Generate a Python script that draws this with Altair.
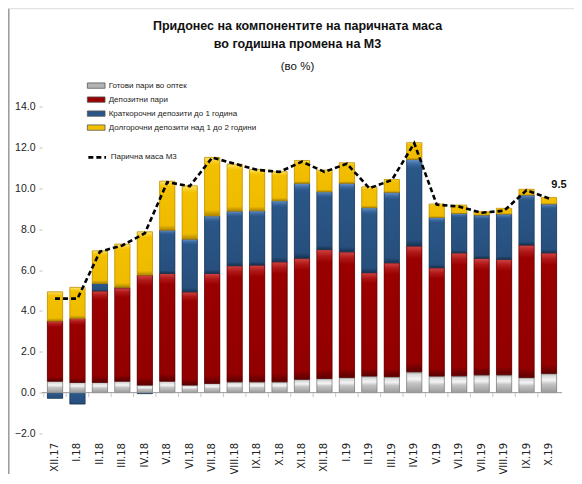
import altair as alt
import pandas as pd

months = ["XII.17", "I.18", "II.18", "III.18", "IV.18", "V.18", "VI.18", "VII.18",
          "VIII.18", "IX.18", "X.18", "XI.18", "XII.18", "I.19", "II.19", "III.19",
          "IV.19", "V.19", "VI.19", "VII.19", "VIII.19", "IX.19", "X.19"]
currency = [0.56, 0.50, 0.50, 0.56, 0.37, 0.56, 0.37, 0.45, 0.53, 0.53, 0.53, 0.65,
            0.69, 0.74, 0.81, 0.78, 1.02, 0.81, 0.82, 0.87, 0.87, 0.74, 0.94]
demand = [2.94, 3.13, 4.48, 4.57, 5.38, 5.27, 4.56, 5.38, 5.68, 5.71, 5.87, 5.93,
          6.31, 6.15, 5.06, 5.57, 6.15, 5.30, 6.02, 5.70, 5.65, 6.48, 5.90]
short_term = [-0.28, -0.56, 0.36, 0.02, -0.05, 2.12, 2.58, 2.82, 2.67, 2.66, 2.99, 3.66,
              2.83, 3.35, 3.18, 3.45, 4.24, 2.46, 1.93, 2.12, 2.22, 2.45, 2.39]
long_term = [1.43, 1.52, 1.60, 2.12, 2.12, 2.40, 2.61, 2.86, 2.30, 2.02, 1.42, 1.12,
             1.06, 1.01, 1.02, 0.63, 0.82, 0.66, 0.41, 0.16, 0.28, 0.28, 0.32]
m3 = [4.6, 4.6, 6.9, 7.2, 7.8, 10.3, 10.1, 11.5, 11.2, 10.9, 10.8, 11.3,
      10.8, 11.2, 10.0, 10.4, 12.2, 9.2, 9.1, 8.8, 8.9, 9.9, 9.5]

components = ["Готови пари во оптек", "Депозитни пари",
              "Краткорочни депозити до 1 година", "Долгорочни депозити над 1 до 2 години"]
line_name = "Парична маса М3"
title_lines = ["Придонес на компонентите на паричната маса", "во годишна промена на М3"]
subtitle = "(во %)"
fills = ["#b4b4b4", "#9a0000", "#2a5788", "#f3c000"]
edges = ["#7a7a7a", "#5e0000", "#1a3859", "#b88c00"]
gradients = [
    [(0.0, "#8c8c8c"), (0.12, "#d9d9d9"), (0.35, "#f4f4f4"), (0.55, "#c4c4c4"), (1.0, "#9a9a9a")],
    [(0.0, "#cf4545"), (0.05, "#b01818"), (0.1, "#9a0000"), (0.93, "#920000"), (1.0, "#5a0000")],
    [(0.0, "#6a95c9"), (0.05, "#3e6ba2"), (0.1, "#2a5788"), (0.93, "#274f7d"), (1.0, "#16324f")],
    [(0.0, "#ffe47a"), (0.07, "#f9cf25"), (0.13, "#f3c000"), (0.9, "#eebb00"), (1.0, "#b08400")],
]

# stacked extents (positive and negative parts stacked separately)
rows = []
for i, m in enumerate(months):
    pos, neg = 0.0, 0.0
    for k, series in enumerate([currency, demand, short_term, long_term]):
        v = series[i]
        if v >= 0:
            start, end = pos, pos + v
            pos = end
        else:
            start, end = neg, neg + v
            neg = end
        rows.append({"month": m, "component": components[k], "order": k,
                     "value": v, "start": start, "end": end})
bars_df = pd.DataFrame(rows)
line_df = pd.DataFrame({"month": months, "m3": m3, "series": line_name})
last_df = line_df.tail(1)

FONT = "Liberation Sans, Arial, sans-serif"
W, H = 520, 327

xscale = alt.Scale(paddingInner=0.32, paddingOuter=0.24)
xenc = alt.X("month:N", sort=months, scale=xscale,
             axis=alt.Axis(title=None, labelAngle=-90, labelFont="DejaVu Sans",
                           labelFontSize=10, labelColor="#222", domain=False, ticks=False,
                           labelPadding=9))
yscale = alt.Scale(domain=[-2, 14], nice=False, zero=False)
yaxis = alt.Axis(title=None, values=[-2, 0, 2, 4, 6, 8, 10, 12, 14], format=".1f",
                 labelFont=FONT, labelFontSize=10.5, labelColor="#222",
                 domain=False, grid=False, tickColor="#c0c0c0", tickSize=3, labelPadding=4)

base_bars = alt.Chart(bars_df).mark_bar().encode(
    x=xenc,
    y=alt.Y("end:Q", scale=yscale, axis=yaxis),
    y2="start:Q",
    color=alt.Color("component:N", scale=alt.Scale(domain=components, range=fills),
                    legend=alt.Legend(title=None, orient="none", legendX=44.7, legendY=-30.4,
                                      symbolType="M-1,-0.3H1V0.3H-1Z", symbolSize=313,
                                      labelFont=FONT, labelFontSize=8, labelColor="#222",
                                      labelLimit=0,
                                      rowPadding=0, padding=0, labelOffset=3,
                                      symbolStrokeWidth=0.8, symbolStrokeColor="#555")),
)

overlays = []
for k, comp in enumerate(components):
    grad = alt.LinearGradient(gradient="linear", x1=0, x2=0, y1=0, y2=1,
                              stops=[alt.GradientStop(offset=o, color=c) for o, c in gradients[k]])
    overlays.append(
        alt.Chart(bars_df).transform_filter(alt.datum.component == comp)
        .mark_bar(color=grad, stroke=edges[k], strokeWidth=0.7)
        .encode(x=alt.X("month:N", sort=months),
                y=alt.Y("end:Q", scale=yscale), y2="start:Q")
    )

zero_line = alt.Chart(pd.DataFrame({"z": [0]})).mark_rule(color="#9a9a9a", strokeWidth=1).encode(
    y=alt.Y("z:Q", scale=yscale), x=alt.value(0), x2=alt.value(W))

sep_ticks = alt.Chart(line_df).mark_rule(color="#c8c8c8", strokeWidth=1, xOffset=-3.6).encode(
    x=alt.X("month:N", sort=months, bandPosition=0),
    y=alt.datum(0), y2=alt.datum(-0.22))

line = alt.Chart(line_df).mark_line(color="black", strokeWidth=2.6, strokeDash=[5, 3]).encode(
    x=alt.X("month:N", sort=months),
    y=alt.Y("m3:Q", scale=yscale),
    strokeDash=alt.StrokeDash("series:N", scale=alt.Scale(domain=[line_name], range=[[5, 3]]),
                              legend=alt.Legend(title=None, orient="none", legendX=44.7, legendY=40.4,
                                                symbolType="stroke", symbolSize=313,
                                                symbolStrokeColor="black", symbolStrokeWidth=2.6,
                                                labelFont=FONT, labelFontSize=8, labelColor="#222",
                                                labelLimit=0, padding=0, labelOffset=3)),
)

label = alt.Chart(last_df).mark_text(font=FONT, fontSize=11, fontWeight="bold", color="#111",
                                      dx=10, dy=-13).encode(
    x=alt.X("month:N", sort=months),
    y=alt.Y("m3:Q", scale=yscale),
    text=alt.Text("m3:Q", format=".1f"))

title_df = pd.DataFrame({"t": title_lines + [subtitle]})
title1 = alt.Chart(title_df.iloc[[0]]).mark_text(font=FONT, fontSize=12.5, fontWeight="bold",
                                                 color="#111", baseline="middle").encode(
    text="t:N", x=alt.value(255.5), y=alt.value(-80.5))
title2 = alt.Chart(title_df.iloc[[1]]).mark_text(font=FONT, fontSize=12.5, fontWeight="bold",
                                                 color="#111", baseline="middle").encode(
    text="t:N", x=alt.value(255.5), y=alt.value(-62.5))
title3 = alt.Chart(title_df.iloc[[2]]).mark_text(font=FONT, fontSize=11.5,
                                                 color="#111", baseline="middle").encode(
    text="t:N", x=alt.value(255.5), y=alt.value(-39.5))

frame_df = pd.DataFrame({"a": [0]})
frame_left = alt.Chart(frame_df).mark_rule(color="#999999", strokeWidth=1.5).encode(
    x=alt.value(-33.2), y=alt.value(-98), y2=alt.value(H + 44))
frame_top = alt.Chart(frame_df).mark_rule(color="#e2e2e2", strokeWidth=1.2).encode(
    y=alt.value(-97.8), x=alt.value(-33.2), x2=alt.value(W + 30))

chart = alt.layer(frame_left, frame_top, title1, title2, title3,
                  base_bars, *overlays, sep_ticks, zero_line, line, label).properties(
    width=W, height=H,
    autosize=alt.AutoSizeParams(type="none"),
    padding={"left": 34, "top": 98.5, "right": 12, "bottom": 40},
).configure_view(stroke=None).configure_axis(labelFlush=False)

chart.save("out.html", embed_options={"renderer": "svg", "actions": False})
